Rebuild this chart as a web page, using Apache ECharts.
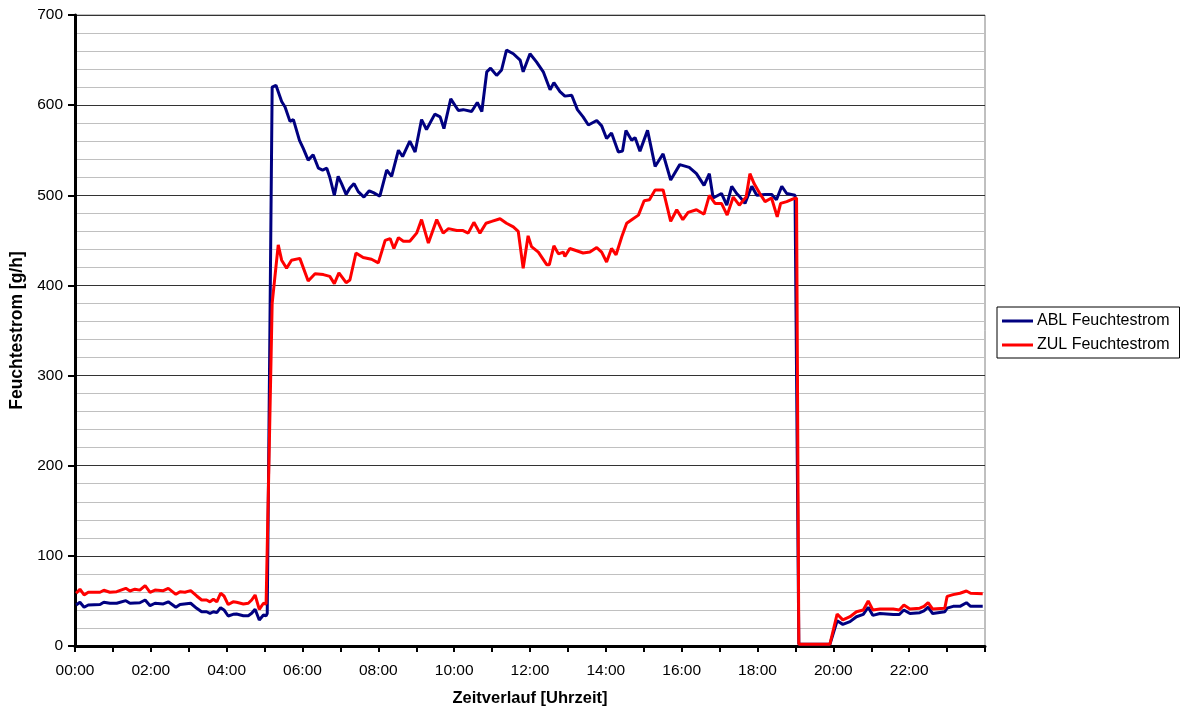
<!DOCTYPE html>
<html>
<head>
<meta charset="utf-8">
<script src="https://cdn.jsdelivr.net/npm/echarts@6/dist/echarts.min.js"></script>
<style>
  html, body { margin: 0; padding: 0; background: #fff; }
  #chart { width: 1186px; height: 713px; }
</style>
</head>
<body>
<div id="chart"></div>
<script>
// time of day in decimal hours, values in g/h
const ablHours = [0.03, 0.13, 0.24, 0.35, 0.66, 0.76, 0.92, 1.1, 1.34, 1.45, 1.71, 1.85, 1.98, 2.11, 2.33, 2.46, 2.66, 2.77, 3.05, 3.21, 3.34, 3.47, 3.56, 3.65, 3.74, 3.84, 3.93, 4.04, 4.17, 4.26, 4.44, 4.57, 4.66, 4.75, 4.86, 4.97, 5.04, 5.07,
  5.2, 5.3, 5.45, 5.54, 5.67, 5.76, 5.92, 6.02, 6.15, 6.28, 6.42, 6.53, 6.64, 6.72, 6.84, 6.94, 7.03, 7.15, 7.25, 7.36, 7.47, 7.62, 7.76, 7.87, 8.04, 8.22, 8.35, 8.53, 8.64, 8.83, 8.97, 9.14, 9.27, 9.49, 9.63, 9.73, 9.91,
  10.11, 10.24, 10.46, 10.61, 10.73, 10.86, 10.96, 11.12, 11.25, 11.38, 11.56, 11.74, 11.82, 12.0, 12.17, 12.35, 12.53, 12.63, 12.79, 12.92, 13.1, 13.25, 13.4, 13.54, 13.76, 13.89, 14.02, 14.15, 14.33, 14.44, 14.53, 14.68, 14.77, 14.9,
  15.1, 15.3, 15.51, 15.71, 15.95, 16.2, 16.39, 16.59, 16.73, 16.83, 17.05, 17.19, 17.32, 17.45, 17.54, 17.67, 17.85, 17.98, 18.2, 18.37, 18.5, 18.64, 18.77, 18.99, 19.04,
  19.09, 19.91, 20.1, 20.25, 20.44, 20.61, 20.79, 20.92, 21.04, 21.23, 21.58, 21.74, 21.86, 22.02, 22.28, 22.39, 22.5, 22.62, 22.94, 23.0, 23.16, 23.34, 23.51, 23.62, 23.94];
const ablValues = [45.5, 48.5, 43, 45.5, 46, 48.5, 47.4, 47.4, 50.3, 47.4, 48, 51, 44.7, 47.4, 46.6, 49, 42.9, 46, 47.4, 41.8, 38, 38, 36.3, 38, 37, 42.5, 40, 33.3, 35.1, 35.5, 33.6, 33.6, 36.3, 40.7, 28.8, 34.4, 33.6, 36,
  620, 622, 604, 598, 582, 584, 561, 552, 539, 545, 530, 528, 530, 520, 500, 521, 513, 501, 508, 513, 504, 498, 505, 503, 499, 528, 521, 550, 543, 560, 548, 584, 573, 590, 587, 574, 607,
  594, 595, 593, 603, 593, 637, 641, 633, 639, 661, 657, 650, 637, 657, 648, 637, 617, 625, 615, 610, 611, 595, 587, 578, 583, 577, 563, 569, 548, 549, 572, 561, 564, 549,
  572, 532, 546, 517, 534, 531, 524, 511, 524, 497, 502, 489, 510, 502, 498, 491, 510, 500, 501, 501, 495, 510, 502, 500, 498,
  2, 2, 28, 24, 27, 32.5, 35, 43, 34, 36, 35, 35, 40, 36, 37, 39, 43, 36, 38, 42, 44, 44, 48, 44, 44];

const zulHours = [0.03, 0.13, 0.24, 0.35, 0.66, 0.76, 0.92, 1.1, 1.34, 1.45, 1.58, 1.71, 1.85, 1.98, 2.11, 2.33, 2.46, 2.66, 2.77, 2.9, 3.05, 3.21, 3.34, 3.47, 3.56, 3.65, 3.74, 3.84, 3.93, 4.04, 4.17, 4.26, 4.44, 4.57, 4.66, 4.75, 4.86, 4.97, 5.04,
  5.2, 5.36, 5.45, 5.58, 5.71, 5.93, 6.15, 6.33, 6.55, 6.72, 6.84, 6.96, 7.15, 7.25, 7.41, 7.6, 7.82, 8.0, 8.18, 8.31, 8.41, 8.53, 8.66, 8.83, 9.01, 9.14, 9.32, 9.54, 9.71, 9.85,
  10.07, 10.22, 10.37, 10.52, 10.68, 10.84, 10.99, 11.21, 11.38, 11.56, 11.69, 11.82, 11.95, 12.04, 12.22, 12.44, 12.51, 12.63, 12.75, 12.88, 12.92, 13.05, 13.19, 13.4, 13.58, 13.76, 13.89, 14.02, 14.15, 14.27, 14.42, 14.55, 14.72, 14.86,
  15.01, 15.15, 15.3, 15.51, 15.71, 15.87, 16.03, 16.17, 16.39, 16.59, 16.73, 16.88, 17.05, 17.2, 17.36, 17.52, 17.7, 17.8, 17.91, 18.06, 18.2, 18.37, 18.52, 18.61, 18.77, 18.94, 19.03,
  19.09, 19.91, 20.1, 20.25, 20.44, 20.61, 20.79, 20.92, 21.04, 21.23, 21.58, 21.74, 21.86, 22.02, 22.28, 22.39, 22.5, 22.62, 22.94, 23.0, 23.16, 23.34, 23.51, 23.62, 23.94];
const zulValues = [58.5, 63, 56.6, 59.6, 59.6, 61.8, 59.6, 60.3, 64, 61, 63, 62, 67, 59.6, 62, 61.4, 64, 57.3, 60.3, 59.6, 61.4, 55.5, 51, 51, 49, 51.8, 49, 58.5, 55.5, 46, 49, 48.5, 46.6, 47.4, 51, 56.6, 40.7, 47.4, 46.6,
  380, 445, 428, 419, 428, 430, 405, 413, 412, 410, 402, 414, 403, 406, 436, 431, 429, 425, 450, 452, 441, 453, 449, 449, 458, 473, 447, 473, 458, 463,
  461, 461, 458, 470, 458, 469, 471, 474, 469, 465, 460, 419, 455, 443, 437, 423, 423, 444, 435, 437, 432, 441, 439, 436, 437, 442, 437, 426, 441, 434, 454, 469, 474, 478,
  494, 495, 506, 506, 471, 484, 473, 481, 484, 479, 500, 491, 491, 478, 498, 489, 498, 524, 513, 502, 493, 497, 476, 491, 493, 496, 497,
  2, 2, 35.5, 29, 32.5, 38, 40, 50, 40, 41, 41, 40, 45.5, 41, 42, 44, 48, 41, 42, 55, 57, 58.5, 61, 58.5, 58];

const seriesNames = ['ABL Feuchtestrom', 'ZUL Feuchtestrom'];
const seriesColors = ['#000080', '#ff0000'];

function pairs(hours, values) {
  return hours.map((h, i) => [h, values[i]]);
}

function hourLabel(v) {
  if (v % 2 !== 0 || v >= 24) return '';
  return (v < 10 ? '0' : '') + v + ':00';
}

const font = "'Liberation Sans', Arial, sans-serif";
const chart = echarts.init(document.getElementById('chart'));

const option = {
  animation: false,
  backgroundColor: '#fff',
  grid: {
    left: 75,
    right: 201,
    top: 15,
    bottom: 67,
    show: true,
    borderColor: '#808080',
    borderWidth: 1
  },
  legend: {
    orient: 'vertical',
    left: 997,
    top: 307,
    padding: [6, 10, 5, 5],
    itemGap: 8,
    itemWidth: 31,
    itemHeight: 3,
    icon: 'rect',
    borderColor: '#000',
    borderWidth: 1,
    textStyle: { fontFamily: font, fontSize: 16, color: '#000', padding: [0, 0, 0, -1] },
    data: seriesNames
  },
  xAxis: {
    type: 'value',
    min: 0,
    max: 24,
    interval: 1,
    name: 'Zeitverlauf [Uhrzeit]',
    nameLocation: 'middle',
    nameGap: 44,
    nameTextStyle: { fontFamily: font, fontSize: 16.5, fontWeight: 'bold', color: '#000' },
    axisLine: { lineStyle: { color: '#000', width: 3 } },
    axisTick: { show: true, length: 6, lineStyle: { color: '#000', width: 2 } },
    axisLabel: {
      fontFamily: font, fontSize: 15.5, color: '#000', margin: 17,
      formatter: hourLabel
    },
    splitLine: { show: false }
  },
  yAxis: {
    type: 'value',
    min: 0,
    max: 700,
    interval: 100,
    name: 'Feuchtestrom [g/h]',
    nameLocation: 'middle',
    nameGap: 49,
    nameTextStyle: { fontFamily: font, fontSize: 17.5, fontWeight: 'bold', color: '#000' },
    axisLine: { show: true, lineStyle: { color: '#000', width: 3 } },
    axisTick: { show: true, length: 7, lineStyle: { color: '#000', width: 2 } },
    axisLabel: { fontFamily: font, fontSize: 15.5, color: '#000', margin: 12 },
    splitLine: { show: true, lineStyle: { color: '#333', width: 1 } },
    minorTick: { show: false, splitNumber: 5 },
    minorSplitLine: { show: true, lineStyle: { color: '#c0c0c0', width: 1 } }
  },
  series: [
    {
      name: seriesNames[0],
      type: 'line',
      data: pairs(ablHours, ablValues),
      showSymbol: false,
      symbol: 'none',
      lineStyle: { color: seriesColors[0], width: 3 },
      itemStyle: { color: seriesColors[0] }
    },
    {
      name: seriesNames[1],
      type: 'line',
      data: pairs(zulHours, zulValues),
      showSymbol: false,
      symbol: 'none',
      lineStyle: { color: seriesColors[1], width: 3 },
      itemStyle: { color: seriesColors[1] }
    }
  ]
};

chart.setOption(option);
</script>
</body>
</html>
